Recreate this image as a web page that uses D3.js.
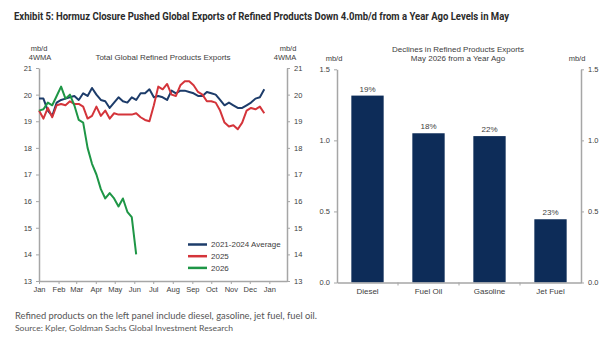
<!DOCTYPE html>
<meta charset="utf-8">
<script src="https://d3js.org/d3.v7.min.js"></script>
<style>
  body { margin: 0; background: #fff; }
  text { font-family: "Liberation Sans", Arial, sans-serif; fill: #404040; }
</style>
<body>
<script>
// weekly 4WMA values, mb/d (week i = Jan 1 + 7*i days)
var avg2124 = [19.85,19.85,19.4,19.2,19.7,19.8,19.85,19.9,19.95,19.8,20.05,19.95,20.25,20.0,19.8,19.75,
  19.5,19.7,19.9,19.75,19.7,19.9,19.8,20.05,20.05,20.2,19.9,19.95,19.9,19.8,20.15,20.05,20.15,20.15,
  20.1,20.05,19.95,19.95,20.1,20.05,20.0,19.8,19.6,19.7,19.6,19.5,19.5,19.6,19.7,19.85,19.9,20.2];
var y2025 = [19.4,19.1,19.5,19.15,19.6,19.65,19.6,19.75,19.65,19.65,19.55,19.1,19.2,19.55,19.2,19.4,
  19.1,19.3,19.25,19.25,19.25,19.25,19.3,19.15,19.05,19.0,19.6,20.3,20.2,20.4,20.0,19.95,20.35,20.5,
  20.5,20.35,20.1,20.0,19.75,19.75,19.7,19.4,18.95,18.8,18.85,18.7,18.95,19.4,19.5,19.45,19.55,19.3];
var y2026 = [19.4,19.45,19.7,19.6,19.95,20.3,19.85,20.0,19.6,19.05,18.95,18.0,17.4,17.0,16.45,16.1,
  16.3,16.1,15.8,16.1,15.6,15.4,14.0];
var lineNames = ["2021-2024 Average", "2025", "2026"];
var lineColors = ["#1d3c6a", "#d4343a", "#1e9646"];
var monthLabels = ["Jan","Feb","Mar","Apr","May","Jun","Jul","Aug","Sep","Oct","Nov","Dec","Jan"];
var leftTicks = [13,14,15,16,17,18,19,20,21];

// right panel: declines May 2026 vs year ago
var products = ["Diesel", "Fuel Oil", "Gasoline", "Jet Fuel"];
var declines = [1.315, 1.05, 1.03, 0.445];
var declinePct = ["19%", "18%", "22%", "23%"];
var barTicks = [0, 0.5, 1.0, 1.5];

var W = 600, H = 340;
var svg = d3.select("body").append("svg").attr("width", W).attr("height", H);
var axisCol = "#a6a6a6";

// headline
svg.append("text").attr("x", 14).attr("y", 20)
  .style("font-family", "'Liberation Sans Narrow', 'Roboto', sans-serif")
  .style("font-weight", "bold").style("font-size", "11px").style("fill", "#2b2b2b")
  .attr("textLength", 495).attr("lengthAdjust", "spacingAndGlyphs")
  .text("Exhibit 5: Hormuz Closure Pushed Global Exports of Refined Products Down 4.0mb/d from a Year Ago Levels in May");

// ---------- left panel ----------
var t0 = new Date(2026, 0, 1);
function wk(i) { return d3.timeDay.offset(t0, 7 * i); }
var x = d3.scaleTime().domain([t0, new Date(2027, 0, 29)]).range([39, 287]);
var y = d3.scaleLinear().domain([13, 21]).range([281, 68]);

var left = svg.append("g");
function styleAxis(g) {
  g.select(".domain").attr("stroke", axisCol).attr("stroke-width", 1.5);
  g.selectAll(".tick line").attr("stroke", axisCol);
  g.selectAll(".tick text").style("font-size", "7.5px").style("fill", "#404040")
    .style("font-family", "'Liberation Sans', Arial, sans-serif");
}
left.append("g").attr("transform", "translate(39,0)")
  .call(d3.axisLeft(y).tickValues(leftTicks).tickSize(3).tickSizeOuter(0).tickPadding(4))
  .call(styleAxis);
left.append("g").attr("transform", "translate(287,0)")
  .call(d3.axisRight(y).tickValues(leftTicks).tickSize(3).tickSizeOuter(0).tickPadding(4))
  .call(styleAxis);
var monthDates = d3.range(13).map(function(m) { return new Date(2026, m, 1); });
left.append("g").attr("transform", "translate(0,281)")
  .call(d3.axisBottom(x).tickValues(monthDates).tickSize(3).tickSizeOuter(0).tickPadding(3)
    .tickFormat(function(d, i) { return monthLabels[i]; }))
  .call(styleAxis);

var line = d3.line().x(function(d, i) { return x(wk(i)); }).y(function(d) { return y(d); });
[avg2124, y2025, y2026].forEach(function(s, k) {
  left.append("path").datum(s).attr("d", line).attr("fill", "none")
    .attr("stroke", lineColors[k]).attr("stroke-width", 2).attr("stroke-linejoin", "round");
});

left.append("text").attr("x", 163).attr("y", 60).attr("text-anchor", "middle")
  .style("font-size", "8px").text("Total Global Refined Products Exports");
left.append("text").attr("x", 39).attr("y", 51).attr("text-anchor", "middle").style("font-size", "7.5px").text("mb/d");
left.append("text").attr("x", 40).attr("y", 60).attr("text-anchor", "middle").style("font-size", "7.5px").text("4WMA");
left.append("text").attr("x", 288).attr("y", 51).attr("text-anchor", "middle").style("font-size", "7.5px").text("mb/d");
left.append("text").attr("x", 285).attr("y", 60).attr("text-anchor", "middle").style("font-size", "7.5px").text("4WMA");

var legend = left.selectAll(".legend").data(lineNames).enter().append("g")
  .attr("transform", function(d, i) { return "translate(188," + (244.5 + i * 11.7) + ")"; });
legend.append("line").attr("x1", 0).attr("x2", 19).attr("stroke-width", 2.5)
  .attr("stroke", function(d, i) { return lineColors[i]; });
legend.append("text").attr("x", 23).attr("dy", "0.35em").style("font-size", "8px").text(function(d) { return d; });

// ---------- right panel ----------
var xb = d3.scaleBand().domain(products).range([337, 581]).paddingInner(0.47).paddingOuter(0.235);
var yb = d3.scaleLinear().domain([0, 1.5]).range([282.5, 69.3]);
var right = svg.append("g");

right.append("g").attr("transform", "translate(337,0)")
  .call(d3.axisLeft(yb).tickValues(barTicks).tickFormat(d3.format(".1f")).tickSize(3).tickSizeOuter(0).tickPadding(4))
  .call(styleAxis);
right.append("g").attr("transform", "translate(581,0)")
  .call(d3.axisRight(yb).tickValues(barTicks).tickFormat(d3.format(".1f")).tickSize(3).tickSizeOuter(0).tickPadding(4))
  .call(styleAxis);

right.selectAll("rect").data(products).enter().append("rect")
  .attr("x", function(d) { return xb(d); })
  .attr("y", function(d, i) { return yb(declines[i]); })
  .attr("width", xb.bandwidth())
  .attr("height", function(d, i) { return yb(0) - yb(declines[i]); })
  .attr("fill", "#0d2c58");

var xAx = right.append("g").attr("transform", "translate(0,282.5)")
  .call(d3.axisBottom(xb).tickSize(0).tickPadding(6))
  .call(styleAxis);
xAx.selectAll(".tick text").style("font-size", "8px");
// tick marks between categories
xAx.selectAll(".sep").data(products.slice(1)).enter().append("line")
  .attr("x1", function(d) { return xb(d) - xb.step() * xb.paddingInner() / 2; })
  .attr("x2", function(d) { return xb(d) - xb.step() * xb.paddingInner() / 2; })
  .attr("y1", 0).attr("y2", 3).attr("stroke", axisCol);

right.selectAll(".pct").data(products).enter().append("text")
  .attr("x", function(d) { return xb(d) + xb.bandwidth() / 2; })
  .attr("y", function(d, i) { return yb(declines[i]) - 4; })
  .attr("text-anchor", "middle").style("font-size", "8px")
  .text(function(d, i) { return declinePct[i]; });

right.append("text").attr("x", 458).attr("y", 52).attr("text-anchor", "middle")
  .style("font-size", "8px").text("Declines in Refined Products Exports");
right.append("text").attr("x", 458).attr("y", 61).attr("text-anchor", "middle")
  .style("font-size", "8px").text("May 2026 from a Year Ago");
right.append("text").attr("x", 334).attr("y", 61).attr("text-anchor", "middle").style("font-size", "7.5px").text("mb/d");
right.append("text").attr("x", 577).attr("y", 61).attr("text-anchor", "middle").style("font-size", "7.5px").text("mb/d");

// footnotes
svg.append("text").attr("x", 15).attr("y", 319)
  .style("font-family", "Lato, 'Open Sans', sans-serif").style("font-size", "9px").style("fill", "#555")
  .attr("textLength", 302).attr("lengthAdjust", "spacingAndGlyphs")
  .text("Refined products on the left panel include diesel, gasoline, jet fuel, fuel oil.");
svg.append("text").attr("x", 15).attr("y", 331)
  .style("font-family", "Lato, 'Open Sans', sans-serif").style("font-size", "8px").style("fill", "#555")
  .attr("textLength", 218).attr("lengthAdjust", "spacingAndGlyphs")
  .text("Source: Kpler, Goldman Sachs Global Investment Research");
</script>
</body>
